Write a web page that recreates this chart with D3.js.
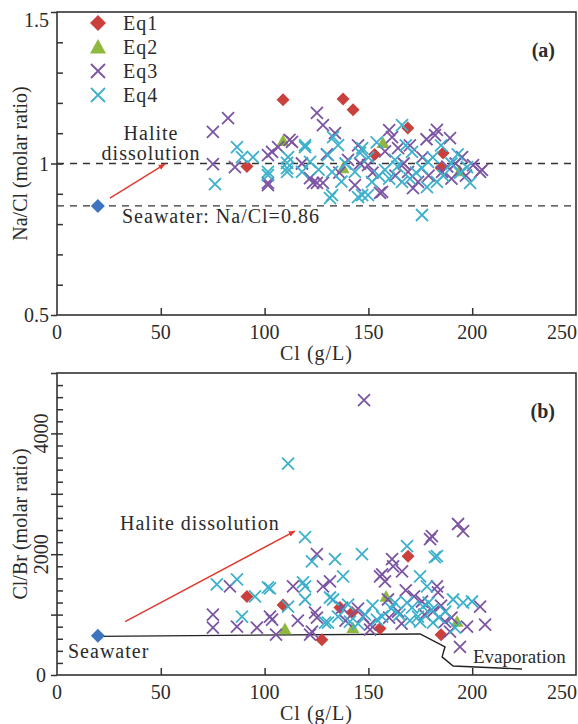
<!DOCTYPE html>
<html>
<head>
<meta charset="utf-8">
<script src="https://cdn.jsdelivr.net/npm/d3@7"></script>
<style>
body{margin:0;background:#fff}
svg text{fill:#2b2b2b}
</style>
</head>
<body>
<svg id="chart" width="578" height="724" font-family="'Liberation Serif', 'DejaVu Serif', serif"></svg>
<script>
// shared
var seriesNames=["Eq1","Eq2","Eq3","Eq4"];
var seriesTypes=["diamond","triangle","cross","cross"];
var Colours=["#c9403c","#8fb83f","#7b55a3","#3cb0cc"];
var seawaterColour="#3d74bf";
var xTicks=[0,50,100,150,200,250];

// panel (a)  [Cl g/L, Na/Cl molar]
var seawaterA=[19.7,0.86];
var refLinesA=[1,0.86];
var arrowA=[[25.5,0.886],[52,0.998]];
var yTicksA=[0.5,1,1.5];
var eq1A=[[91.5,0.99],[108.9,1.21],[137.8,1.213],[142.6,1.177],[169,1.117],[186,1.035],[153,1.03],[185,0.985]];
var eq2A=[[108.9,1.075],[157,1.068],[137.8,0.985],[194,0.975]];
var eq3A=[[75.1,1.104],[82.4,1.15],[75.1,0.998],[85.7,0.988],[101.6,0.929],[103.6,1.038],[106.5,1.054],[113.2,1.071],
  [125.2,1.167],[128.1,1.127],[133.9,1.1],[101.6,1.028],[101.6,0.936],[121.9,0.952],[123.3,0.936],[125.2,0.936],
  [128.1,0.936],[140.2,1.012],[143.5,0.929],[149.8,0.995],[156.6,0.906],[161.4,1.087],[164.3,1.051],[169.1,0.972],
  [173.9,0.939],[182.1,1.094],[185.5,0.972],[183,1.111],[189.3,1.084],[195.1,1.021],[204.7,0.979],[200.4,0.995],
  [155.6,0.903],[171.5,0.919],[203.8,0.972],[112,1.078],[146,1.0],[152,0.97],[158,1.04],[163,0.96],[167,1.0],
  [176,1.02],[179,0.96],[188,0.99],[192,1.0],[197,0.96],[136,0.97],[130,1.03],[118,1.0],[145,1.06],[160,1.11],
  [170,1.06],[178,1.08],[190,0.95]];
var eq4A=[[76.1,0.932],[86.7,1.054],[89.1,1.021],[94.4,1.021],[101.6,0.972],[110.8,1.002],[101.6,0.962],[110.8,0.972],
  [119.5,1.054],[111.3,1.021],[110.8,0.985],[118,0.972],[121.9,1.005],[132.5,0.972],[132.5,0.896],[130.5,1.028],
  [135.4,1.061],[143.5,0.972],[147,1.051],[147,0.896],[151.7,0.939],[158,0.979],[166.2,1.127],[162.8,1.012],
  [171,1.038],[166.2,0.939],[175.8,0.985],[178.7,1.005],[183,0.939],[175.8,0.83],[197.5,0.988],[194.1,0.969],
  [199,0.936],[133,1.087],[119.5,1.061],[146,1.035],[131.5,0.886],[145,0.889],[149.8,0.896],[178.2,0.922],
  [139,1.0],[150,1.02],[155,0.96],[160,0.95],[164,0.99],[168,1.06],[173,0.97],[181,1.02],[186,0.96],[190,1.0],
  [193,1.03],[126,0.98],[137,0.94],[154,1.07],[170,0.95],[185,1.06]];

// panel (b)  [Cl g/L, Cl/Br molar]
var seawaterB=[19.7,650];
var evapLine=[[19.7,640],[174.9,680],[186.9,467],[185.5,300],[190.8,150],[224,100]];
var arrowB=[[32.8,883],[114.6,2383]];
var yTicksB=[0,2000,4000];
var eq1B=[[91.5,1300],[108.9,1160],[127.6,583],[136.3,1117],[142.1,1033],[155.6,770],[169.1,1967],[185,667]];
var eq2B=[[109.8,760],[142.5,780],[158.5,1300],[192.7,883]];
var eq3B=[[147.9,4550],[83.3,1467],[75.1,1000],[75.1,783],[86.7,800],[96.3,783],[102.6,967],[103.6,917],[105.5,667],
  [113.7,1467],[125.2,2000],[179.7,2250],[161.4,1917],[156.6,1667],[166.2,1717],[131.5,1550],[124.3,1033],
  [121.9,667],[137.3,1117],[150.8,750],[159.4,1250],[175.8,1217],[183.5,1367],[161.9,1800],[155.6,1633],
  [183,1467],[128.1,1467],[125.2,950],[122.8,717],[147.4,967],[164.3,1050],[181.1,1050],[203.8,1133],[206.2,833],
  [189.3,717],[194.1,467],[186.9,883],[197.5,800],[150.8,833],[193.2,2500],[195.6,2383],[180.6,2300],[145,1100],
  [168,1400],[172,1300],[160,950],[166,850],[177,1000],[185,1150],[190,950],[158,1550],[139,900],[116,900]];
var eq4B=[[111.3,3500],[77,1500],[86.7,1583],[95.4,1300],[89.1,967],[102.6,1433],[111.3,1133],[119.5,2283],
  [122.8,1883],[133.9,1917],[146.9,2000],[168.6,2133],[183,1967],[137.8,1633],[133,1250],[119.5,1467],[101.6,1450],
  [119.5,1250],[130.5,867],[141.1,883],[148.4,1000],[162.8,1200],[156.6,967],[171,1117],[173.9,967],[180.6,1083],
  [182,1950],[174.9,1633],[178.2,1467],[118.5,1533],[131.5,1283],[140.2,1167],[129.1,867],[154.1,917],[168.6,1200],
  [176.3,1133],[190.8,1250],[195.6,1200],[199.9,1217],[181.1,867],[174.9,883],[191.7,783],[135.4,967],
  [165,1000],[170,900],[179,1200],[187,1050],[184,950],[161,1100],[152,1150],[145,850]];

var svg=d3.select("#chart");
var left=57, right=576;
var x=d3.scaleLinear().domain([0,250]).range([left,right]);

function marker(g,type,cx,cy,colour,s){
  if(type=="diamond"){
    g.append("path").attr("d","M"+cx+","+(cy-s)+"L"+(cx+s)+","+cy+"L"+cx+","+(cy+s)+"L"+(cx-s)+","+cy+"Z")
      .attr("fill",colour);
  } else if(type=="triangle"){
    g.append("path").attr("d","M"+cx+","+(cy-s)+"L"+(cx+s)+","+(cy+s*0.8)+"L"+(cx-s)+","+(cy+s*0.8)+"Z")
      .attr("fill",colour);
  } else {
    g.append("path").attr("d","M"+(cx-s)+","+(cy-s)+"L"+(cx+s)+","+(cy+s)+"M"+(cx+s)+","+(cy-s)+"L"+(cx-s)+","+(cy+s))
      .attr("stroke",colour).attr("stroke-width",1.8).attr("fill","none");
  }
}

function txt(g,x0,y0,s){
  return g.append("text").attr("x",x0).attr("y",y0).attr("font-size",20).text(s);
}

function drawPanel(p){
  var y=p.y, top=y.range()[1], bottom=y.range()[0];
  var g=svg.append("g");

  // axes ticks
  g.append("g").attr("transform","translate(0,"+bottom+")").attr("color","#333")
    .call(d3.axisTop(x).tickValues([50,100,150,200]).tickSize(7).tickFormat(""))
    .call(s=>s.select(".domain").remove());
  g.append("g").attr("transform","translate("+left+",0)").attr("color","#333")
    .call(d3.axisRight(y).tickValues(p.minor).tickSize(6).tickFormat(""))
    .call(s=>s.select(".domain").remove());
  g.append("g").attr("transform","translate("+left+",0)").attr("color","#333")
    .call(d3.axisLeft(y).tickValues(p.major).tickSize(6).tickFormat(""))
    .call(s=>s.select(".domain").remove());
  g.selectAll(".tick line").attr("stroke-width",1.5);

  g.append("rect").attr("x",left).attr("y",top).attr("width",right-left).attr("height",bottom-top)
    .attr("fill","none").attr("stroke","#333").attr("stroke-width",1.6);

  xTicks.forEach(function(t,i){
    var last=i==xTicks.length-1;
    txt(g,last ? x(t)+1 : x(t),bottom+24,t).attr("text-anchor",last ? "end" : "middle");
  });
  txt(g,(left+right)/2,bottom+45,"Cl (g/L)").attr("text-anchor","middle").attr("letter-spacing",1);
  g.append("text").attr("transform","translate(27,"+((top+bottom)/2)+") rotate(-90)")
    .attr("text-anchor","middle").attr("font-size",20).text(p.ytitle);

  p.labelY(g,y);

  txt(g,555,top+45,p.tag).attr("text-anchor","end").attr("font-weight","bold");

  p.extra(g,y);

  [p.eq1,p.eq2,p.eq3,p.eq4].forEach(function(arr,i){
    arr.forEach(function(d){ marker(g,seriesTypes[i],x(d[0]),y(d[1]),Colours[i],i<2?6.5:6); });
  });
  marker(g,"diamond",x(p.sea[0]),y(p.sea[1]),seawaterColour,7);
}

svg.append("defs").append("marker").attr("id","head").attr("viewBox","0 0 10 10")
  .attr("refX",9).attr("refY",5).attr("markerWidth",7).attr("markerHeight",7).attr("orient","auto")
  .attr("markerUnits","userSpaceOnUse")
  .append("path").attr("d","M0,1L10,5L0,9Z").attr("fill","#e03a30");

drawPanel({
  y:d3.scaleLinear().domain([0.5,1.5]).range([315,12]),
  minor:d3.range(6,15).map(d=>d/10), major:yTicksA,
  ytitle:"Na/Cl (molar ratio)", tag:"(a)",
  eq1:eq1A,eq2:eq2A,eq3:eq3A,eq4:eq4A, sea:seawaterA,
  labelY:function(g,y){
    yTicksA.forEach(function(t){
      txt(g,49,t==1.5 ? y(t)+15 : y(t)+7,t).attr("text-anchor","end");
    });
  },
  extra:function(g,y){
    refLinesA.forEach(function(r){
      g.append("line").attr("x1",left).attr("x2",right).attr("y1",y(r)).attr("y2",y(r))
        .attr("stroke","#333").attr("stroke-width",1.4).attr("stroke-dasharray","7,6");
    });
    g.append("line").attr("x1",x(arrowA[0][0])).attr("y1",y(arrowA[0][1]))
      .attr("x2",x(arrowA[1][0])).attr("y2",y(arrowA[1][1]))
      .attr("stroke","#e03a30").attr("stroke-width",1.5).attr("marker-end","url(#head)");
    txt(g,151,140,"Halite").attr("text-anchor","middle").attr("letter-spacing",1);
    txt(g,151,160,"dissolution").attr("text-anchor","middle").attr("letter-spacing",1);
    txt(g,122,223,"Seawater: Na/Cl=0.86").attr("letter-spacing",1);
    // legend
    seriesNames.forEach(function(n,i){
      var ly=23+i*24;
      marker(g,seriesTypes[i],98,ly,Colours[i],i<2?8:7);
      txt(g,123,ly+7,n).attr("letter-spacing",1);
    });
  }
});

drawPanel({
  y:d3.scaleLinear().domain([0,5000]).range([675,373]),
  minor:d3.range(200,5000,200), major:d3.range(0,5001,1000),
  ytitle:"Cl/Br (molar ratio)", tag:"(b)",
  eq1:eq1B,eq2:eq2B,eq3:eq3B,eq4:eq4B, sea:seawaterB,
  labelY:function(g,y){
    yTicksB.forEach(function(t){
      if(t==0){
        txt(g,46,y(t)+7,t).attr("text-anchor","end");
      } else {
        g.append("text").attr("transform","translate(48,"+y(t)+") rotate(-90)").attr("text-anchor","middle")
          .attr("font-size",20).text(t);
      }
    });
  },
  extra:function(g,y){
    var line=d3.line().x(d=>x(d[0])).y(d=>y(d[1]));
    g.append("path").datum(evapLine).attr("d",line).attr("fill","none").attr("stroke","#222").attr("stroke-width",1.4);
    g.append("line").attr("x1",x(arrowB[0][0])).attr("y1",y(arrowB[0][1]))
      .attr("x2",x(arrowB[1][0])).attr("y2",y(arrowB[1][1]))
      .attr("stroke","#e03a30").attr("stroke-width",1.5).attr("marker-end","url(#head)");
    txt(g,120,530,"Halite dissolution").attr("letter-spacing",1);
    txt(g,68,658,"Seawater").attr("letter-spacing",1);
    txt(g,473,663,"Evaporation").attr("font-size",19);
  }
});
</script>
</body>
</html>
